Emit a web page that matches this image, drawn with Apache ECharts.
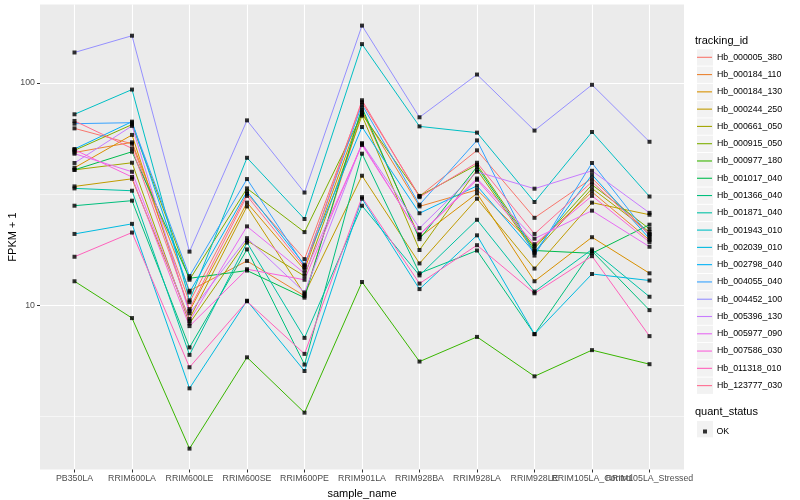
<!DOCTYPE html>
<html><head><meta charset="utf-8">
<script src="https://cdn.jsdelivr.net/npm/echarts@6/dist/echarts.min.js"></script>
<style>html,body{margin:0;padding:0;background:#fff}#c{width:800px;height:500px}</style>
</head><body><div id="c"></div>
<script>
const categories = ['PB350LA','RRIM600LA','RRIM600LE','RRIM600SE','RRIM600PE','RRIM901LA','RRIM928BA','RRIM928LA','RRIM928LE','RRIM105LA_Control','RRIM105LA_Stressed'];
const yTickLabels = [10, 100];
const yMinorLines = [3.1623, 31.623];

const Hb_000005_380 = [62.4, 53.2, 10.3, 31.7, 16.1, 81.8, 30.9, 49.7, 24.7, 37.2, 20.9];
const Hb_000184_110 = [48.6, 54.0, 11.6, 15.8, 11.0, 73.9, 27.8, 33.0, 18.5, 32.3, 19.6];
const Hb_000184_130 = [41.5, 58.3, 9.40, 28.9, 14.4, 75.2, 20.2, 31.8, 12.8, 20.2, 13.9];
const Hb_000244_250 = [34.2, 37.0, 8.67, 27.8, 11.2, 38.2, 15.4, 30.1, 14.6, 28.9, 25.5];
const Hb_000661_050 = [40.6, 43.7, 8.27, 19.5, 13.5, 71.2, 17.7, 40.6, 17.3, 33.5, 21.3];
const Hb_000915_050 = [49.7, 64.9, 13.0, 33.5, 21.3, 72.2, 31.0, 42.8, 18.0, 34.8, 22.0];
const Hb_000977_180 = [12.8, 8.74, 2.26, 5.82, 3.28, 12.7, 5.57, 7.19, 4.78, 6.27, 5.42];
const Hb_001017_040 = [40.6, 49.0, 13.2, 14.3, 10.8, 77.4, 19.8, 41.9, 17.6, 17.1, 23.0];
const Hb_001366_040 = [28.0, 29.5, 6.45, 17.8, 5.40, 48.0, 13.9, 17.6, 7.40, 17.5, 9.49];
const Hb_001871_040 = [33.5, 32.7, 5.97, 19.1, 7.12, 28.0, 13.6, 24.2, 11.5, 17.8, 10.9];
const Hb_001943_010 = [72.2, 93.3, 10.5, 46.0, 24.4, 149.4, 63.7, 59.7, 29.1, 60.1, 30.8];
const Hb_002039_010 = [20.9, 23.2, 4.22, 10.46, 5.05, 30.1, 11.8, 20.6, 7.40, 13.8, 12.9];
const Hb_002798_040 = [50.4, 66.9, 11.4, 32.4, 15.2, 63.3, 25.9, 34.4, 17.2, 38.6, 19.9];
const Hb_004055_040 = [65.5, 66.2, 13.5, 36.9, 15.0, 79.8, 28.3, 55.1, 16.7, 43.6, 20.4];
const Hb_004452_100 = [137, 163, 17.4, 67.8, 32.1, 181, 70, 109, 61, 98, 54.3];
const Hb_005396_130 = [43.6, 64.0, 9.18, 20.0, 11.4, 53.5, 22.2, 39.8, 33.4, 40.2, 26.0];
const Hb_005977_090 = [48.0, 39.8, 8.50, 22.6, 13.9, 52.5, 20.8, 37.1, 19.9, 26.6, 18.3];
const Hb_007586_030 = [50.0, 37.7, 8.04, 14.5, 13.0, 53.2, 20.7, 36.6, 18.8, 31.0, 19.2];
const Hb_011318_010 = [16.5, 21.2, 5.25, 10.4, 6.03, 30.6, 12.5, 18.6, 11.3, 16.6, 7.25];
const Hb_123777_030 = [67.4, 50.7, 9.59, 31.0, 14.8, 83.5, 30.6, 43.7, 20.9, 35.9, 20.7];

const trackingIds = ['Hb_000005_380','Hb_000184_110','Hb_000184_130','Hb_000244_250','Hb_000661_050','Hb_000915_050','Hb_000977_180','Hb_001017_040','Hb_001366_040','Hb_001871_040','Hb_001943_010','Hb_002039_010','Hb_002798_040','Hb_004055_040','Hb_004452_100','Hb_005396_130','Hb_005977_090','Hb_007586_030','Hb_011318_010','Hb_123777_030'];
const seriesValues = [Hb_000005_380,Hb_000184_110,Hb_000184_130,Hb_000244_250,Hb_000661_050,Hb_000915_050,Hb_000977_180,Hb_001017_040,Hb_001366_040,Hb_001871_040,Hb_001943_010,Hb_002039_010,Hb_002798_040,Hb_004055_040,Hb_004452_100,Hb_005396_130,Hb_005977_090,Hb_007586_030,Hb_011318_010,Hb_123777_030];
const colors = ['#F8766D','#EA8331','#D89000','#C09B00','#A3A500','#7CAE00','#39B600','#00BB4E','#00BF7D','#00C1A3','#00BFC4','#00BAE0','#00B0F6','#35A2FF','#9590FF','#C77CFF','#E76BF3','#FA62DB','#FF62BC','#FF6C91'];

const FONT = '"Liberation Sans", Arial, Helvetica, sans-serif';
const chart = echarts.init(document.getElementById('c'), null, {renderer: 'canvas'});

const series = trackingIds.map((id, k) => ({
  name: id, type: 'line', symbol: 'none', xAxisIndex: 0, yAxisIndex: 0,
  data: seriesValues[k].map((v, i) => [i, v]),
  lineStyle: {width: 1, color: colors[k]}, itemStyle: {color: colors[k]},
  silent: true, animation: false
}));
const okPoints = [];
seriesValues.forEach(arr => arr.forEach((v, i) => okPoints.push([i, v])));
series.push({
  name: 'OK', type: 'scatter', symbol: 'rect', symbolSize: 4, z: 5,
  itemStyle: {color: '#000'}, data: okPoints, silent: true, animation: false
});

const legendTop = 48.8, step = 17.28;
const keyBoxes = trackingIds.map((id, k) => ({
  type: 'rect', left: 697, top: legendTop + k * step + 0.5, z: -1,
  shape: {width: 16, height: 16.3}, style: {fill: '#F2F2F2'}
}));
keyBoxes.push({type: 'rect', left: 697, top: 421, z: -1, shape: {width: 16, height: 16.3}, style: {fill: '#F2F2F2'}});

const catIdx = categories.map((c, i) => i);
const evenIdx = catIdx.filter(i => i % 2 === 0);
const oddIdx = catIdx.filter(i => i % 2 === 1);
const xLabelStyle = {fontSize: 8.8, color: '#4D4D4D', margin: 5, fontFamily: FONT,
  formatter: v => categories[Math.round(v)], hideOverlap: false};

chart.setOption({
  animation: false,
  backgroundColor: '#fff',
  textStyle: {fontFamily: FONT},
  grid: {left: 40, right: 116, top: 4.6, bottom: 30.5, containLabel: false, outerBoundsMode: 'none',
         show: true, backgroundColor: '#EBEBEB', borderWidth: 0},
  title: [
    {text: 'tracking_id', left: 695, top: 35.5, padding: 0, textStyle: {fontSize: 11, fontWeight: 'normal', color: '#000', fontFamily: FONT}},
    {text: 'quant_status', left: 695, top: 406.5, padding: 0, textStyle: {fontSize: 11, fontWeight: 'normal', color: '#000', fontFamily: FONT}}
  ],
  xAxis: [{
    type: 'value', min: -0.6, max: 10.6, position: 'bottom',
    name: 'sample_name', nameLocation: 'middle', nameGap: 16,
    nameTextStyle: {fontSize: 11, color: '#000', fontFamily: FONT},
    axisLine: {show: false, onZero: false},
    axisTick: {show: true, length: 3, lineStyle: {color: '#333', width: 1}, customValues: catIdx},
    axisLabel: Object.assign({customValues: evenIdx}, xLabelStyle),
    splitLine: {show: true, lineStyle: {color: '#fff', width: 1.1}}
  }, {
    type: 'value', min: -0.6, max: 10.6, position: 'bottom', offset: 0,
    axisLine: {show: false, onZero: false},
    axisTick: {show: false, customValues: catIdx},
    axisLabel: Object.assign({customValues: oddIdx}, xLabelStyle),
    splitLine: {show: false}
  }],
  yAxis: [{
    type: 'log', logBase: 10, min: 1.82, max: 225, position: 'left',
    name: 'FPKM + 1', nameLocation: 'middle', nameGap: 21.5, nameRotate: 90, nameMoveOverlap: false,
    nameTextStyle: {fontSize: 11, color: '#000', fontFamily: FONT},
    axisLine: {show: false, onZero: false},
    axisTick: {show: true, length: 3, lineStyle: {color: '#333', width: 1}, customValues: yTickLabels},
    axisLabel: {customValues: yTickLabels, fontSize: 8.8, color: '#4D4D4D', margin: 5, fontFamily: FONT},
    splitLine: {show: true, lineStyle: {color: '#fff', width: 1.1}}
  }, {
    type: 'log', logBase: 10, min: 1.82, max: 225, position: 'left',
    axisLine: {show: false, onZero: false}, axisLabel: {show: false},
    axisTick: {show: false, customValues: yMinorLines},
    splitLine: {show: true, lineStyle: {color: '#fff', width: 0.55}}
  }],
  legend: [{
    data: trackingIds, orient: 'vertical', left: 697, top: legendTop, padding: 0,
    icon: 'rect', itemWidth: 15, itemHeight: 1.1, itemGap: 0.28, selectedMode: false,
    textStyle: {fontSize: 8.8, lineHeight: 17, color: '#000', fontFamily: FONT}
  }, {
    data: ['OK'], orient: 'vertical', left: 703, top: 427, padding: 0,
    icon: 'rect', itemWidth: 4, itemHeight: 4, selectedMode: false,
    itemStyle: {color: '#000'},
    textStyle: {fontSize: 8.8, color: '#000', fontFamily: FONT, padding: [0, 0, 0, 4.5]}
  }],
  graphic: keyBoxes,
  series: series
});
</script></body></html>
